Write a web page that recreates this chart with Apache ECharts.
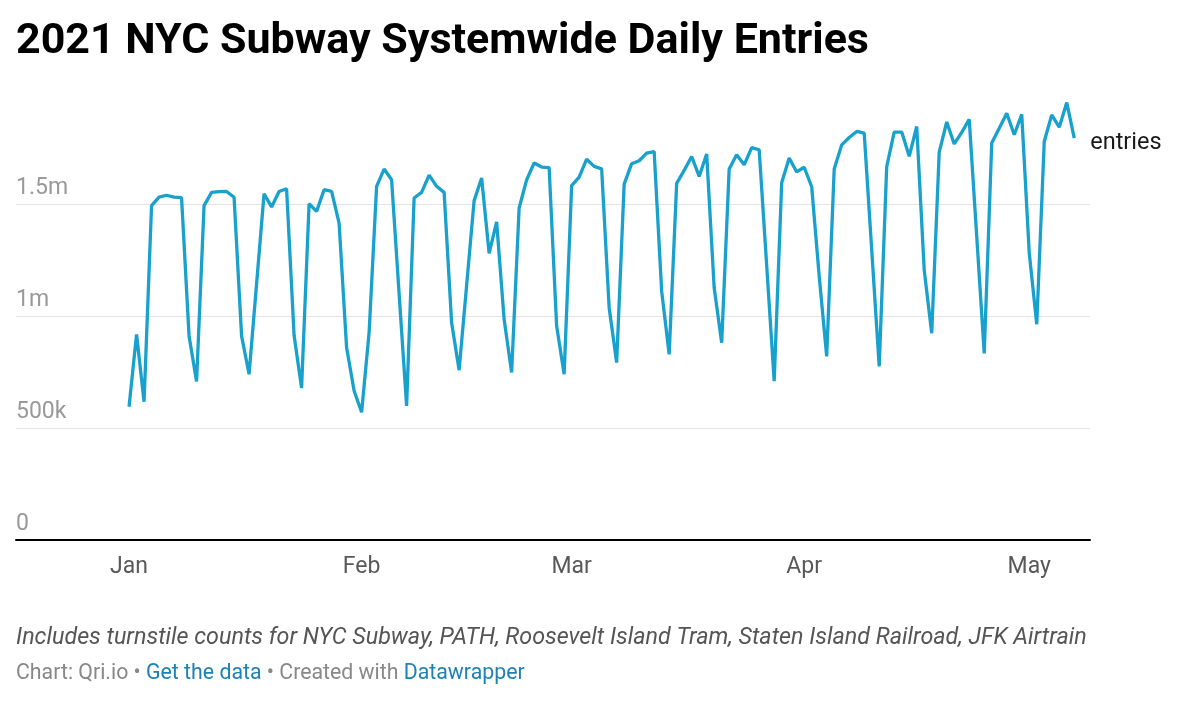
<!DOCTYPE html>
<html lang="en">
<head>
    <meta charset="UTF-8">
    <title>2021 NYC Subway Systemwide Daily Entries</title>
    <script src="https://cdn.jsdelivr.net/npm/echarts@6/dist/echarts.min.js"></script>
    <style>
        html, body { margin: 0; padding: 0; background: #fff; }
        #chart { width: 1200px; height: 713px; }
    </style>
</head>
<body>
<div id="chart"></div>

<script type="text/javascript">
    // daily turnstile entries (thousands), one value per day starting Jan 1 2021
    var startDate = '2021-01-01';
    var entries = [
        595, 918, 617, 1493, 1531, 1539, 1531, 1528, 911, 708,
        1493, 1552, 1555, 1556, 1530, 911, 740, 1143, 1546, 1487,
        1556, 1568, 914, 678, 1501, 1467, 1564, 1556, 1415, 859,
        666, 570, 926, 1579, 1656, 1608, 1100, 599, 1527, 1552,
        1629, 1579, 1552, 970, 758, 1137, 1515, 1616, 1280, 1420,
        985, 748, 1482, 1608, 1683, 1665, 1662, 955, 740, 1582,
        1620, 1700, 1668, 1657, 1037, 792, 1589, 1680, 1693, 1727,
        1734, 1111, 829, 1592, 1650, 1712, 1623, 1723, 1126, 881,
        1656, 1720, 1675, 1752, 1742, 1226, 709, 1595, 1705, 1643,
        1664, 1577, 1178, 820, 1656, 1764, 1797, 1824, 1816, 1296,
        775, 1667, 1821, 1821, 1713, 1846, 1205, 923, 1732, 1866,
        1768, 1820, 1878, 1355, 833, 1772, 1838, 1905, 1809, 1900,
        1282, 963, 1779, 1898, 1843, 1953, 1794
    ];
    var seriesName = 'entries';

    // x tick labels at the first of each month
    var monthStarts = ['2021-01-01', '2021-02-01', '2021-03-01', '2021-04-01', '2021-05-01'];
    var monthLabels = ['Jan', 'Feb', 'Mar', 'Apr', 'May'];

    // y tick values and labels
    var yTicks = [0, 500, 1000, 1500];
    var yLabels = ['0', '500k', '1m', '1.5m'];

    // x is counted in days since the start date
    var DAY = 86400000;
    function dayOf(s) {
        return Math.round((Date.parse(s) - Date.parse(startDate)) / DAY);
    }
    var points = entries.map(function (v, i) {
        return [i, v];
    });
    var monthDays = monthStarts.map(dayOf);

    var myChart = echarts.init(document.getElementById('chart'), null, {renderer: 'canvas'});

    var gray = '#999999';
    var font = 'Roboto, "Noto Sans", sans-serif';

    var option = {
        animation: false,
        backgroundColor: '#ffffff',
        textStyle: {fontFamily: font},
        title: {
            text: '2021 NYC Subway Systemwide Daily Entries',
            left: 11,
            top: 16,
            textStyle: {
                fontFamily: font,
                fontSize: 43,
                fontWeight: 'bold',
                color: '#000000'
            }
        },
        grid: {
            left: 16,
            right: 110,
            top: 92,
            bottom: 173,
            containLabel: false
        },
        xAxis: {
            type: 'value',
            min: -15.07,
            max: 128.1,
            axisLine: {show: true, onZero: false, lineStyle: {color: '#000000', width: 2}},
            axisTick: {show: false},
            splitLine: {show: false},
            axisLabel: {
                customValues: monthDays,
                color: '#595959',
                fontSize: 23,
                fontFamily: font,
                margin: 16,
                formatter: function (val) {
                    return monthLabels[monthDays.indexOf(val)] || '';
                }
            }
        },
        yAxis: {
            type: 'value',
            min: 0,
            max: 2000,
            interval: 500,
            axisLine: {show: false},
            axisTick: {show: false},
            splitLine: {
                show: true,
                showMaxLine: false,
                lineStyle: {color: '#e3e3e3', width: 1}
            },
            axisLabel: {
                inside: true,
                margin: 0,
                customValues: yTicks,
                verticalAlign: 'bottom',
                padding: [0, 0, 4, 0],
                color: gray,
                fontSize: 23,
                fontFamily: font,
                formatter: function (val) {
                    return yLabels[yTicks.indexOf(val)] || '';
                }
            }
        },
        series: [
            {
                name: seriesName,
                type: 'line',
                data: points,
                showSymbol: false,
                symbol: 'none',
                lineStyle: {color: '#18a1cd', width: 3.3},
                itemStyle: {color: '#18a1cd'},
                endLabel: {
                    show: true,
                    formatter: seriesName,
                    color: '#1a1a1a',
                    fontSize: 23.5,
                    fontFamily: font,
                    distance: 16,
                    offset: [0, 5]
                }
            }
        ],
        graphic: [
            {
                type: 'text',
                left: 16,
                top: 627,
                style: {
                    text: 'Includes turnstile counts for NYC Subway, PATH, Roosevelt Island Tram, Staten Island Railroad, JFK Airtrain',
                    font: 'italic 23.3px ' + font,
                    fill: '#555555'
                }
            },
            {
                type: 'text',
                left: 16,
                top: 663,
                style: {
                    text: '{g|Chart: Qri.io • }{b|Get the data}{g| • Created with }{b|Datawrapper}',
                    font: '21.3px ' + font,
                    rich: {
                        g: {fill: '#888888', fontSize: 21.3, fontFamily: font},
                        b: {fill: '#1d81b6', fontSize: 21.3, fontFamily: font}
                    }
                }
            }
        ]
    };

    myChart.setOption(option);
</script>
</body>
</html>
